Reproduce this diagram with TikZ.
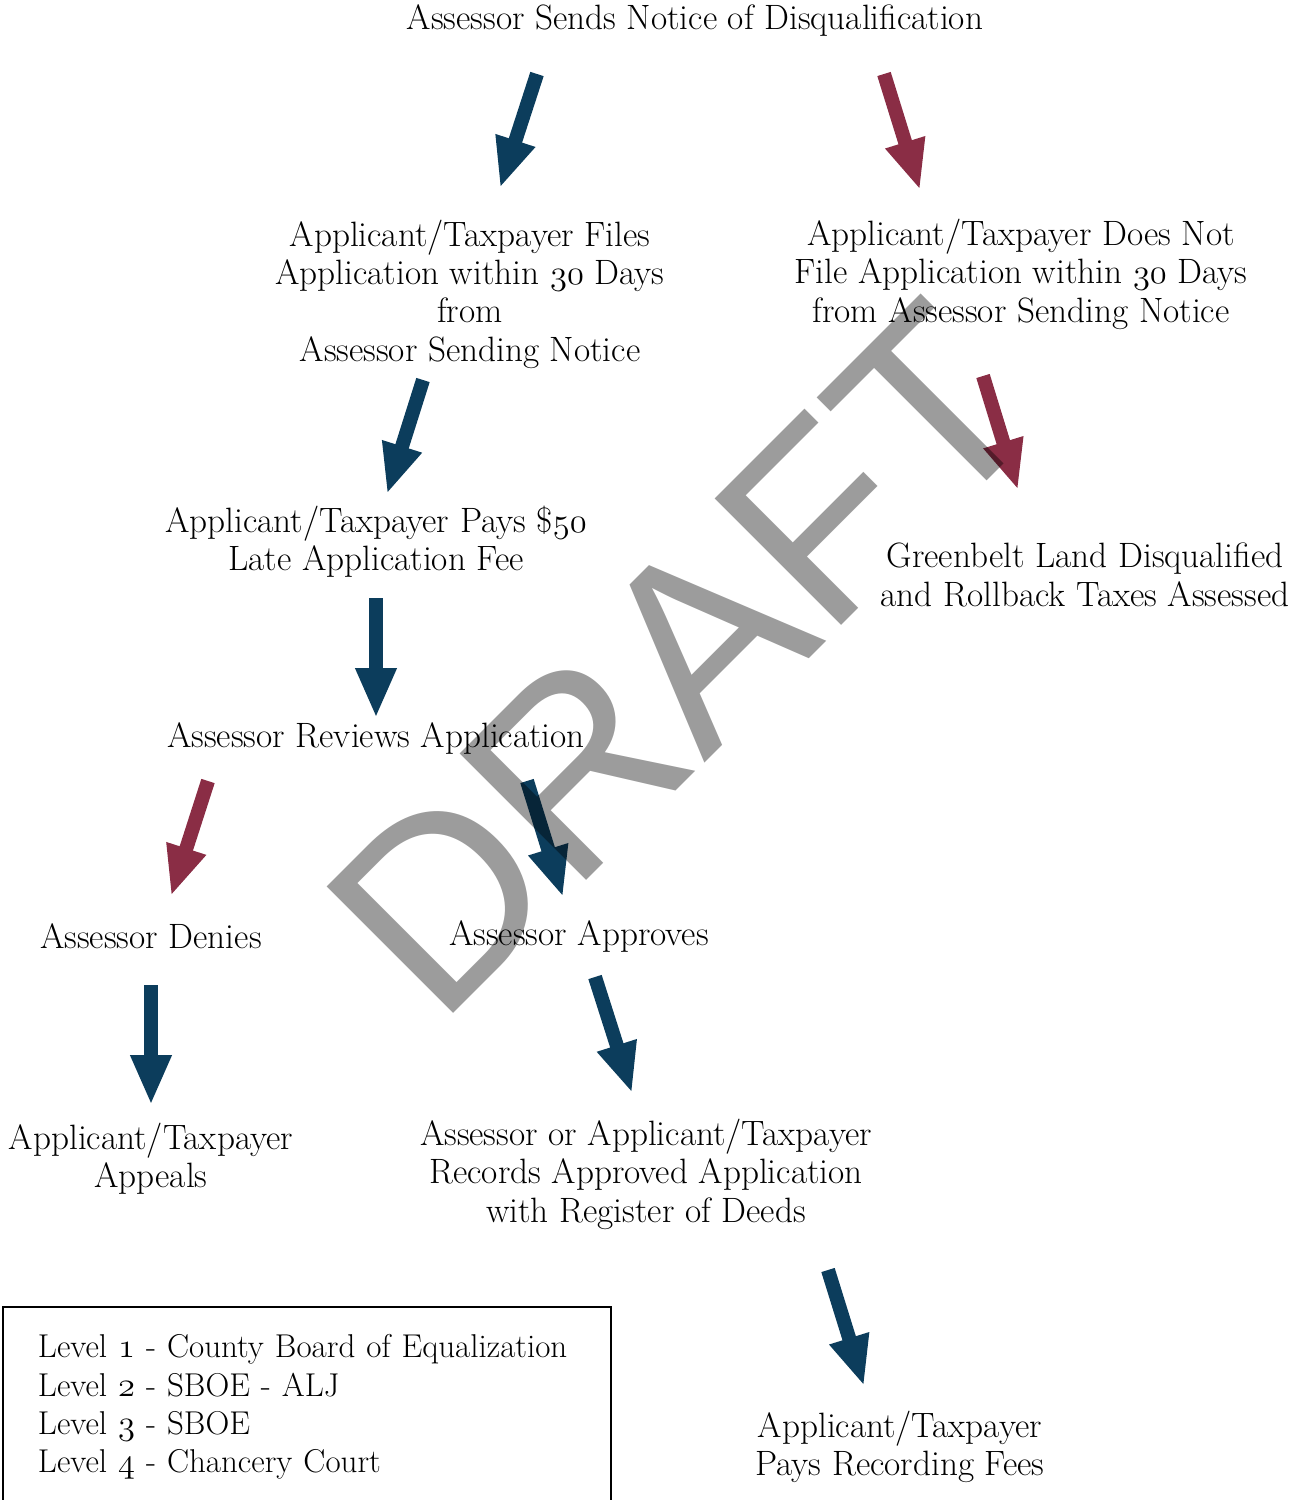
\documentclass[tikz,border=0pt]{standalone}
\usepackage{fontspec}
\usepackage{tikz}
\usetikzlibrary{arrows.meta}
\newfontfamily\wmfont{Liberation Sans}
\definecolor{arrblue}{RGB}{12,61,92}
\definecolor{arrred}{RGB}{138,45,69}
\newcommand\osnum[1]{$\mathnormal{#1}$}

\begin{document}
\begin{tikzpicture}[x=0.5pt,y=-0.5pt,
  txt/.style={align=center,inner sep=0pt,font=\fontsize{17.6}{19.2}\selectfont},
  bluearr/.style={arrblue,line width=7pt,-{Triangle[width=19pt,length=25pt]}},
  redarr/.style={bluearr,arrred}]
\useasboundingbox (0,0) rectangle (1301,1500);

% steps
\node [txt] (notice) at (695,20) {Assessor Sends Notice of Disqualification};
\node [txt] (files) at (470,294) {Applicant/Taxpayer Files\\Application within \osnum{30} Days\\from\\Assessor Sending Notice};
\node [txt] (nofile) at (1021,274) {Applicant/Taxpayer Does Not\\File Application within \osnum{30} Days\\from Assessor Sending Notice};
\node [txt] (fee) at (376,542) {Applicant/Taxpayer Pays \$\osnum{50}\\Late Application Fee};
\node [txt] (disq) at (1085,575) {Greenbelt Land Disqualified\\and Rollback Taxes Assessed};
\node [txt] (review) at (376,738) {Assessor Reviews Application};
\node [txt] (denies) at (151,936) {Assessor Denies};
\node [txt] (approves) at (579,936) {Assessor Approves};
\node [txt] (appeals) at (151,1159) {Applicant/Taxpayer\\Appeals};
\node [txt] (records) at (646,1174) {Assessor or Applicant/Taxpayer\\Records Approved Application\\with Register of Deeds};
\node [txt] (recfee) at (900,1447) {Applicant/Taxpayer\\Pays Recording Fees};

% legend
\node [txt,draw,line width=1pt,anchor=north west,align=left,text width=269pt,
  inner xsep=17.5pt,minimum height=100pt,font=\fontsize{16.5}{19.2}\selectfont] (legend) at (2,1306)
  {\mbox{Level \osnum{1} - County Board of Equalization}\\Level \osnum{2} - SBOE - ALJ\\Level \osnum{3} - SBOE\\Level \osnum{4} - Chancery Court};

% arrow ends
\coordinate (a1s) at (537,74);   \coordinate (a1e) at (500,188);
\coordinate (a2s) at (884,74);   \coordinate (a2e) at (920,190);
\coordinate (a3s) at (423,380);  \coordinate (a3e) at (387,494);
\coordinate (a4s) at (983,376);  \coordinate (a4e) at (1018,490);
\coordinate (a5s) at (376,598);  \coordinate (a5e) at (376,718);
\coordinate (a6s) at (208,781);  \coordinate (a6e) at (171,896);
\coordinate (a7s) at (527,781);  \coordinate (a7e) at (563,897);
\coordinate (a8s) at (151,985);  \coordinate (a8e) at (151,1105);
\coordinate (a9s) at (595,977);  \coordinate (a9e) at (632,1093);
\coordinate (a10s) at (828,1270); \coordinate (a10e) at (864,1386);

\draw[bluearr] (a1s) -- (a1e);
\draw[redarr] (a2s) -- (a2e);
\draw[bluearr] (a3s) -- (a3e);
\draw[redarr] (a4s) -- (a4e);
\draw[bluearr] (a5s) -- (a5e);
\draw[redarr] (a6s) -- (a6e);
\draw[bluearr] (a7s) -- (a7e);
\draw[bluearr] (a8s) -- (a8e);
\draw[bluearr] (a9s) -- (a9e);
\draw[bluearr] (a10s) -- (a10e);

% watermark
\node [inner sep=0pt,rotate=45,text opacity=0.39,font=\wmfont\fontsize{130}{130}\selectfont] (draft) at (682,659) {DRAFT};
\end{tikzpicture}
\end{document}
